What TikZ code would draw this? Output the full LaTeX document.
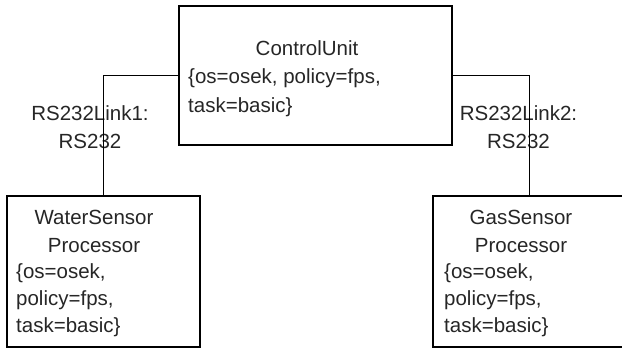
\documentclass[tikz,border=0pt]{standalone}
\usepackage{fontspec}
\setmainfont{Liberation Sans}
\usetikzlibrary{positioning}

\begin{document}
\begin{tikzpicture}[x=1pt,y=-1pt,
  procbox/.style={draw=black, line width=1.8pt, inner sep=0pt},
  txt/.style={font=\fontsize{20.5}{28}\selectfont, inner sep=0pt, text=black!85},
  wire/.style={black, line width=1.8pt}]
\useasboundingbox (0,0) rectangle (622,349);
\clip (0,0) rectangle (622,349);
% processors
\node[procbox, minimum width=273, minimum height=139] (cu) at (315.5,75.5) {};
\node[procbox, minimum width=193, minimum height=151] (ws) at (103.5,271.5) {};
\node[procbox, minimum width=193, minimum height=151] (gs) at (529.5,271.5) {};
% texts
\node[txt] (cutitle) at (307,48) {ControlUnit};
\node[txt, anchor=west, align=left, font=\fontsize{20.5}{29.5}\selectfont] (cuattr) at (188,92.5) {\{os=osek, policy=fps,\\task=basic\}};
\node[txt, align=center] (wstitle) at (94,231) {WaterSensor\\Processor};
\node[txt, anchor=west, align=left, font=\fontsize{20.5}{27}\selectfont] (wsattr) at (16,300) {\{os=osek,\\policy=fps,\\task=basic\}};
\node[txt, align=center] (gstitle) at (521,231) {GasSensor\\Processor};
\node[txt, anchor=west, align=left, font=\fontsize{20.5}{27}\selectfont] (gsattr) at (444,300) {\{os=osek,\\policy=fps,\\task=basic\}};
% links
\node[txt, align=center] (link1) at (90,127.5) {RS232Link1:\\RS232};
\node[txt, align=center] (link2) at (518.5,127.5) {RS232Link2:\\RS232};
\draw[wire] (cu.west) -| (ws.north);
\draw[wire] (cu.east) -| (gs.north);
\end{tikzpicture}
\end{document}
